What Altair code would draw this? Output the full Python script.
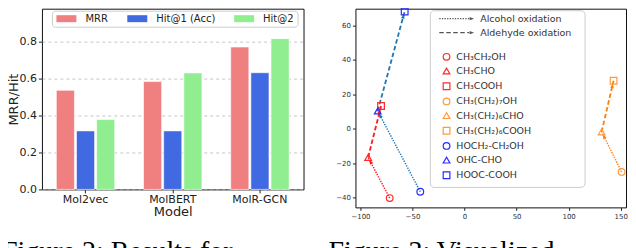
import math
import altair as alt
import pandas as pd

# ---------------- data: bar chart ----------------
models = ["Mol2vec", "MolBERT", "MolR-GCN"]
metrics = ["MRR", "Hit@1 (Acc)", "Hit@2"]
mrr = [0.535, 0.582, 0.769]
hit1 = [0.316, 0.316, 0.630]
hit2 = [0.377, 0.629, 0.814]

# ---------------- data: embedding scatter ----------------
compounds = ["CH₃CH₂OH", "CH₃CHO", "CH₃COOH",
             "CH₃(CH₂)₇OH", "CH₃(CH₂)₆CHO", "CH₃(CH₂)₆COOH",
             "HOCH₂-CH₂OH", "OHC-CHO", "HOOC-COOH"]
comp_x = [-71.9, -92.6, -80.2, 150.9, 131.7, 143.2, -42.5, -83.4, -57.5]
comp_y = [-40.2, -16.6, 13.2, -25.0, -1.8, 27.9, -36.5, 10.3, 68.1]
reactions = ["Alcohol oxidation", "Aldehyde oxidation"]

captions = ["Figure 2: Results for", "Figure 3: Visualized"]

# ---------------- styles ----------------
metric_colors = ["#f08080", "#4169e1", "#90ee90"]
marker_colors = ["#ff2a2a"] * 3 + ["#ff9a3c"] * 3 + ["#2a2aff"] * 3
marker_shapes = ["circle", "triangle-up", "square"] * 3
family_line_colors = ["#ff1a1a", "#ff7f0e", "#1f77b4"]
dash_styles = [[1.3, 1.3], [4.5, 2.5]]
dash_widths = [1.5, 1.8]

FONT = "DejaVu Sans"

# ---------------- left panel ----------------
W1, H1 = 262, 181
y1max = H1 / 185.5

bar_df = pd.DataFrame({
    "model": models * 3,
    "metric": [m for m in metrics for _ in models],
    "value": mrr + hit1 + hit2,
})

bars = alt.Chart(bar_df).mark_bar(stroke="white", strokeWidth=0.6).encode(
    x=alt.X("model:N", sort=models,
            scale=alt.Scale(paddingInner=0.33, paddingOuter=0.165),
            axis=alt.Axis(title="Model", labelAngle=0, labelFontSize=11,
                          labelColor="#222", tickColor="#222", tickSize=3.5,
                          labelPadding=0.5, titleFontSize=13,
                          titleFontWeight="normal", titleColor="#222",
                          titlePadding=1, domain=False, grid=False)),
    xOffset=alt.XOffset("metric:N", sort=metrics,
                        scale=alt.Scale(paddingInner=0.1, paddingOuter=0)),
    y=alt.Y("value:Q",
            scale=alt.Scale(domain=[0, y1max], nice=False, zero=True),
            axis=alt.Axis(title="MRR/Hit", values=[0, 0.2, 0.4, 0.6, 0.8],
                          format=".1f", labelFontSize=11, labelColor="#222",
                          tickColor="#222", tickSize=3.5, labelPadding=2,
                          grid=True, gridDash=[3, 3], gridColor="#b8b8b8",
                          gridWidth=0.8, domain=False, titleFontSize=13,
                          titleFontWeight="normal", titleColor="#222",
                          titleX=-28, titleY=H1 / 2, titleAngle=270,
                          titleAlign="center", titleBaseline="middle")),
    color=alt.Color("metric:N", sort=metrics,
                    scale=alt.Scale(domain=metrics, range=metric_colors),
                    legend=alt.Legend(orient="none", legendX=10, legendY=2,
                                      direction="horizontal", columns=3,
                                      title=None,
                                      symbolType="M-2.86,-1L2.86,-1L2.86,1L-2.86,1Z",
                                      symbolSize=49, symbolOffset=6.5,
                                      labelOffset=14, columnPadding=17,
                                      padding=3, labelFontSize=10,
                                      labelColor="#222", strokeColor="#cccccc",
                                      fillColor="#ffffff", cornerRadius=3,
                                      symbolStrokeWidth=0, symbolOpacity=1)),
)

cap_layers = []
for i, c in enumerate(captions):
    cap_layers.append(
        alt.Chart(pd.DataFrame({"caption": [c]})).mark_text(
            font="Liberation Serif", fontSize=28, align="left",
            baseline="alphabetic", color="#000"
        ).encode(x=alt.value([-40, 287][i]), y=alt.value(252), text="caption:N")
    )

left = alt.layer(bars, *cap_layers).properties(width=W1, height=H1)

# ---------------- right panel ----------------
W2, H2 = 271, 199
KX = 1.0426                      # px per x unit, as in the reference
xdom = [-104.8, -104.8 + W2 / KX]
ydom = [-45.6, 69.7]
kx = W2 / (xdom[1] - xdom[0])
ky = H2 / (ydom[1] - ydom[0])

pts_df = pd.DataFrame({"compound": compounds, "x": comp_x, "y": comp_y})

seg_rows, head_rows = [], []
for f in range(3):
    for k in range(2):
        a, b = 3 * f + k, 3 * f + k + 1
        sid = f"{f}-{k}"
        for o, idx in enumerate((a, b)):
            seg_rows.append({"seg": sid, "ord": o, "x": comp_x[idx], "y": comp_y[idx],
                             "reaction": reactions[k], "lc": family_line_colors[f]})
        dxp = (comp_x[b] - comp_x[a]) * kx
        dyp = -(comp_y[b] - comp_y[a]) * ky
        ang = math.degrees(math.atan2(dyp, dxp)) % 360
        head_rows.append({"x": comp_x[b], "y": comp_y[b], "ang": ang,
                          "lc": family_line_colors[f]})
seg_df = pd.DataFrame(seg_rows)
head_df = pd.DataFrame(head_rows)

xs = alt.Scale(domain=xdom, nice=False, zero=False)
ys = alt.Scale(domain=ydom, nice=False, zero=False)
xax = alt.Axis(title=None, values=[-100, -50, 0, 50, 100, 150], labelFontSize=7,
               labelColor="#333", tickColor="#222", tickSize=3, labelPadding=2,
               grid=False, domain=False, labelOverlap=False, labelFlush=False)
yax = alt.Axis(title=None, values=[-40, -20, 0, 20, 40, 60], labelFontSize=7,
               labelColor="#333", tickColor="#222", tickSize=3, labelPadding=2,
               grid=False, domain=False, labelOverlap=False, labelFlush=False)

box = alt.Chart(pd.DataFrame({"k": [0]})).mark_rect(
    fill="white", stroke="#cccccc", strokeWidth=1, cornerRadius=4
).encode(x=alt.value(75), x2=alt.value(230), y=alt.value(2), y2=alt.value(179))

lines = alt.Chart(seg_df).mark_line().encode(
    x=alt.X("x:Q", scale=xs, axis=xax),
    y=alt.Y("y:Q", scale=ys, axis=yax),
    detail="seg:N",
    order="ord:Q",
    stroke=alt.Stroke("lc:N", scale=None),
    strokeDash=alt.StrokeDash("reaction:N",
                              scale=alt.Scale(domain=reactions, range=dash_styles),
                              legend=None),
    strokeWidth=alt.StrokeWidth("reaction:N",
                                scale=alt.Scale(domain=reactions, range=dash_widths),
                                legend=None),
)

HEAD = "M-1.1,0L-3.3,-0.8L-3.3,0.8Z"
heads = alt.Chart(head_df).mark_point(shape=HEAD, filled=True, size=20,
                                      opacity=1, strokeWidth=0).encode(
    x=alt.X("x:Q", scale=xs, axis=xax),
    y=alt.Y("y:Q", scale=ys, axis=yax),
    fill=alt.Fill("lc:N", scale=None),
    angle=alt.Angle("ang:Q", scale=None),
)

comp_legend = alt.Legend(orient="none", legendX=86.5, legendY=43.5, title=None,
                         symbolSize=45, symbolStrokeWidth=1.2, labelFontSize=9.5,
                         labelOffset=5, rowPadding=2.2, padding=0,
                         labelColor="#333", labelLimit=0)
points = alt.Chart(pts_df).mark_point(filled=False, size=45, strokeWidth=1.2,
                                      opacity=1).encode(
    x=alt.X("x:Q", scale=xs, axis=xax),
    y=alt.Y("y:Q", scale=ys, axis=yax),
    color=alt.Color("compound:N", sort=compounds,
                    scale=alt.Scale(domain=compounds, range=marker_colors),
                    legend=comp_legend),
    shape=alt.Shape("compound:N", sort=compounds,
                    scale=alt.Scale(domain=compounds, range=marker_shapes),
                    legend=comp_legend),
)

leg_layers = []
for r, name in enumerate(reactions):
    yy = 10 + 14 * r
    one = pd.DataFrame({"reaction": [name]})
    leg_layers.append(alt.Chart(one).mark_rule(
        color="#555", strokeDash=dash_styles[r], strokeWidth=1.2
    ).encode(x=alt.value(84), x2=alt.value(114), y=alt.value(yy)))
    leg_layers.append(alt.Chart(one).mark_point(
        shape=HEAD, filled=True, size=16, color="#555", opacity=1, strokeWidth=0
    ).encode(x=alt.value(121), y=alt.value(yy)))
    leg_layers.append(alt.Chart(one).mark_text(
        align="left", baseline="middle", fontSize=9.5, color="#333"
    ).encode(x=alt.value(125), y=alt.value(yy), text="reaction:N"))

right = alt.layer(box, lines, heads, points, *leg_layers).properties(width=W2, height=H2)

chart = alt.hconcat(left, right, spacing=52, bounds="flush").resolve_scale(
    color="independent", shape="independent", x="independent", y="independent"
).resolve_legend(color="independent", shape="independent").properties(
    padding={"left": -7, "top": -3.5, "right": 0, "bottom": -12}
).configure(font=FONT).configure_view(stroke="#111", strokeWidth=1)

chart.save("out.html", embed_options={"renderer": "svg", "actions": False})
